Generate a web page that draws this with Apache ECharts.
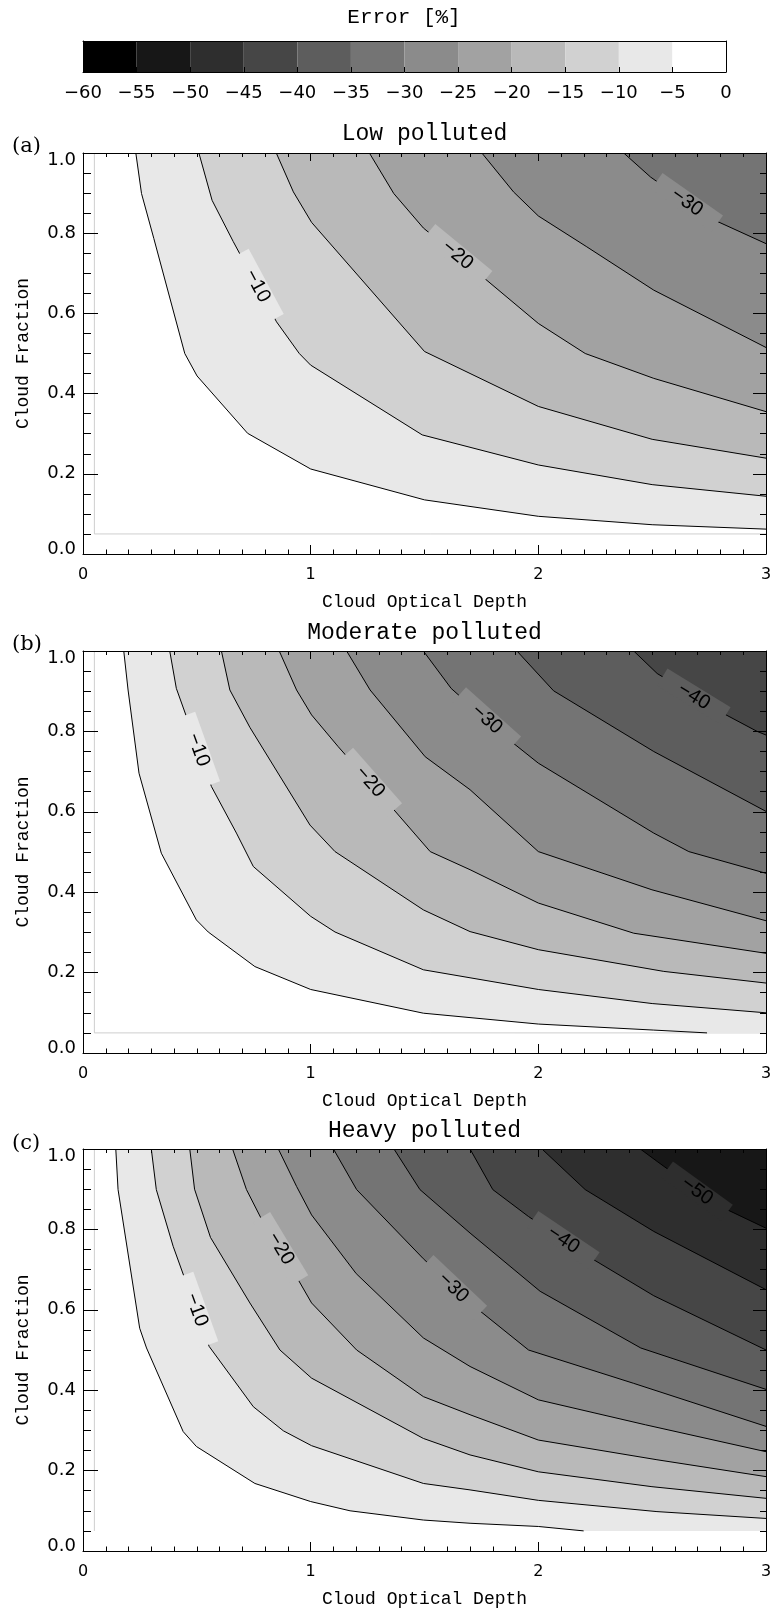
<!DOCTYPE html>
<html>
<head>
<meta charset="utf-8">
<script src="https://cdn.jsdelivr.net/npm/echarts@6/dist/echarts.min.js"></script>
<style>html,body{margin:0;padding:0;background:#fff}#c{width:774px;height:1611px}</style>
</head>
<body>
<div id="c"></div>
<script>
// ---------- data ----------
const colorbarTicks = [-60, -55, -50, -45, -40, -35, -30, -25, -20, -15, -10, -5, 0];
const bandColors = ['#000000', '#171717', '#2e2e2e', '#464646', '#5d5d5d', '#747474',
                    '#8b8b8b', '#a2a2a2', '#b9b9b9', '#d1d1d1', '#e8e8e8', '#ffffff'];
const xRange = [0, 3];
const yRange = [0, 1];
const xTicks = [0, 1, 2, 3];
const yTicks = [0.0, 0.2, 0.4, 0.6, 0.8, 1.0];
const domainEdge = 0.05;
const panelTitles = ['Low polluted', 'Moderate polluted', 'Heavy polluted'];
const panelTags = ['(a)', '(b)', '(c)'];

const lowLevels = [-5, -10, -15, -20, -25, -30];
const lowContours = [
  [[0.232,1.0],[0.257,0.899],[0.311,0.787],[0.447,0.500],[0.501,0.444],[0.723,0.301],[1.0,0.212],[1.5,0.135],[2.0,0.094],[2.5,0.073],[3.0,0.062]],
  [[0.509,1.0],[0.567,0.882],[0.660,0.779],[0.850,0.579],[0.950,0.500],[1.0,0.471],[1.49,0.297],[2.0,0.222],[2.5,0.173],[3.0,0.144]],
  [[0.849,1.0],[0.924,0.903],[1.004,0.827],[1.5,0.505],[2.0,0.368],[2.5,0.286],[3.0,0.239]],
  [[1.258,1.0],[1.365,0.899],[1.495,0.813],[1.737,0.700],[2.0,0.575],[2.206,0.500],[2.507,0.438],[3.0,0.355]],
  [[1.752,1.0],[1.891,0.903],[2.0,0.843],[2.213,0.766],[2.507,0.658],[3.0,0.515]],
  [[2.375,1.0],[2.493,0.940],[2.741,0.841],[3.0,0.774]]
];
const lowLabels = [[1, 0.766, 0.668], [3, 1.645, 0.745], [5, 2.653, 0.877]];

const modLevels = [-5, -10, -15, -20, -25, -30, -35, -40];
const modContours = [
  [[0.179,1.0],[0.198,0.903],[0.246,0.696],[0.344,0.497],[0.498,0.331],[0.550,0.301],[0.755,0.215],[1.0,0.158],[1.495,0.099],[2.0,0.072],[2.507,0.057],[2.741,0.05]],
  [[0.381,1.0],[0.410,0.907],[0.564,0.663],[0.674,0.547],[0.748,0.464],[1.0,0.340],[1.107,0.301],[1.495,0.207],[2.0,0.158],[2.5,0.123],[3.0,0.100]],
  [[0.608,1.0],[0.645,0.903],[0.733,0.810],[0.997,0.567],[1.107,0.501],[1.495,0.356],[1.70,0.302],[2.0,0.257],[2.551,0.203],[3.0,0.174]],
  [[0.862,1.0],[0.938,0.903],[1.004,0.841],[1.121,0.762],[1.341,0.621],[1.525,0.501],[1.70,0.456],[2.0,0.373],[2.419,0.298],[3.0,0.248]],
  [[1.158,1.0],[1.261,0.903],[1.503,0.737],[1.70,0.655],[2.0,0.501],[2.499,0.406],[3.0,0.329]],
  [[1.495,1.0],[1.617,0.907],[1.854,0.787],[2.0,0.721],[2.507,0.547],[2.661,0.501],[3.0,0.447]],
  [[1.906,1.0],[2.067,0.901],[2.507,0.750],[3.0,0.601]],
  [[2.419,1.0],[2.522,0.944],[2.785,0.853],[2.961,0.800],[3.0,0.791]]
];
const modLabels = [[1, 0.506, 0.754], [3, 1.261, 0.674], [5, 1.774, 0.830], [7, 2.683, 0.887]];

const heavyLevels = [-5, -10, -15, -20, -25, -30, -35, -40, -45, -50];
const heavyContours = [
  [[0.144,1.0],[0.154,0.899],[0.249,0.554],[0.279,0.505],[0.440,0.297],[0.498,0.260],[0.755,0.168],[1.0,0.123],[1.173,0.100],[1.495,0.077],[1.70,0.069],[2.0,0.061],[2.199,0.05]],
  [[0.300,1.0],[0.322,0.899],[0.396,0.758],[0.554,0.509],[0.748,0.359],[0.880,0.299],[1.004,0.262],[1.495,0.168],[1.70,0.152],[2.0,0.126],[2.521,0.098],[3.0,0.081]],
  [[0.469,1.0],[0.490,0.900],[0.560,0.780],[0.733,0.617],[0.865,0.500],[1.004,0.430],[1.495,0.280],[1.70,0.239],[2.0,0.197],[2.499,0.160],[3.0,0.131]],
  [[0.657,1.0],[0.718,0.899],[0.780,0.830],[0.945,0.675],[1.004,0.617],[1.202,0.500],[1.495,0.384],[1.70,0.339],[2.0,0.276],[2.521,0.227],[3.0,0.185]],
  [[0.858,1.0],[0.938,0.907],[1.004,0.836],[1.200,0.690],[1.495,0.530],[1.70,0.459],[2.0,0.376],[2.470,0.314],[3.0,0.247]],
  [[1.100,1.0],[1.202,0.899],[1.495,0.727],[1.70,0.617],[1.957,0.500],[2.419,0.417],[3.0,0.310]],
  [[1.366,1.0],[1.480,0.899],[1.70,0.791],[2.008,0.646],[2.450,0.505],[3.0,0.402]],
  [[1.70,1.0],[1.80,0.899],[1.957,0.832],[2.195,0.741],[2.507,0.635],[3.0,0.500]],
  [[2.016,1.0],[2.206,0.899],[2.507,0.795],[3.0,0.650]],
  [[2.448,1.0],[2.522,0.969],[2.785,0.861],[3.0,0.803]]
];
const heavyLabels = [[1, 0.498, 0.600], [3, 0.868, 0.752], [5, 1.627, 0.655], [7, 2.11, 0.774], [9, 2.697, 0.895]];

// ---------- helpers ----------
function bandColor(lo) { return bandColors[Math.round((lo - colorbarTicks[0]) / 5)]; }
function levelText(v) { return v < 0 ? '\u2212' + Math.abs(v) : String(v); }

const grids = [
  { left: 83, width: 643, top: 41, height: 31 },
  { left: 83, width: 683, top: 153, height: 401 },
  { left: 83, width: 683, top: 651, height: 402 },
  { left: 83, width: 683, top: 1149, height: 402 }
];

const black = '#000';
const tickFont = 'DejaVu Sans';
const monoFont = 'Liberation Mono';

const xAxes = [];
const yAxes = [];
// colorbar axes
xAxes.push({
  gridIndex: 0, type: 'value', min: colorbarTicks[0], max: colorbarTicks[colorbarTicks.length - 1], interval: 5,
  position: 'bottom', z: 10,
  axisLine: { show: true, onZero: false, lineStyle: { color: black, width: 1 } },
  axisTick: { show: true, inside: true, length: 5, lineStyle: { color: black } },
  splitLine: { show: false },
  axisLabel: { show: true, interval: 0, showMinLabel: true, showMaxLabel: true, margin: 12, color: black,
    fontFamily: tickFont, fontSize: 18, formatter: v => levelText(v) }
});
xAxes.push({
  gridIndex: 0, type: 'value', min: colorbarTicks[0], max: 0, interval: 5, position: 'top', z: 10,
  axisLine: { show: true, onZero: false, lineStyle: { color: black, width: 1 } },
  axisTick: { show: false }, axisLabel: { show: false }, splitLine: { show: false }
});
yAxes.push({ gridIndex: 0, type: 'value', min: 0, max: 1, position: 'left', z: 10,
  axisLine: { show: true, onZero: false, lineStyle: { color: black } }, axisTick: { show: false }, axisLabel: { show: false }, splitLine: { show: false } });
yAxes.push({ gridIndex: 0, type: 'value', min: 0, max: 1, position: 'right', z: 10,
  axisLine: { show: true, onZero: false, lineStyle: { color: black } }, axisTick: { show: false }, axisLabel: { show: false }, splitLine: { show: false } });

const yLabelRich = {
  n: { fontFamily: tickFont, fontSize: 18, color: black },
  t: { fontFamily: tickFont, fontSize: 18, color: black, padding: [14, 0, 0, 0] },
  b: { fontFamily: tickFont, fontSize: 18, color: black, padding: [0, 0, 10, 0] }
};

for (let g = 1; g <= 3; g++) {
  xAxes.push({
    gridIndex: g, type: 'value', min: xRange[0], max: xRange[1], interval: 1, position: 'bottom', z: 10,
    name: 'Cloud Optical Depth', nameLocation: 'middle', nameGap: 39,
    nameTextStyle: { fontFamily: monoFont, fontSize: 18, color: black },
    axisLine: { show: true, onZero: false, lineStyle: { color: black, width: 1 } },
    axisTick: { show: true, inside: true, length: 9, lineStyle: { color: black } },
    minorTick: { show: true, splitNumber: 10, length: 4.5, lineStyle: { color: black } },
    splitLine: { show: false }, minorSplitLine: { show: false },
    axisLabel: { show: true, margin: 13, color: black, fontFamily: tickFont, fontSize: 16,
      formatter: v => xTicks.indexOf(v) >= 0 ? String(v) : '' }
  });
  xAxes.push({
    gridIndex: g, type: 'value', min: xRange[0], max: xRange[1], interval: 1, position: 'top', z: 10,
    axisLine: { show: true, onZero: false, lineStyle: { color: black, width: 1 } },
    axisTick: { show: true, inside: true, length: 8, lineStyle: { color: black } },
    minorTick: { show: true, splitNumber: 10, length: 4, lineStyle: { color: black } },
    splitLine: { show: false }, axisLabel: { show: false }
  });
  yAxes.push({
    gridIndex: g, type: 'value', min: yRange[0], max: yRange[1], interval: 0.2, position: 'left', z: 10,
    name: 'Cloud Fraction', nameLocation: 'middle', nameGap: 51, nameRotate: 90,
    nameTextStyle: { fontFamily: monoFont, fontSize: 18, color: black },
    axisLine: { show: true, onZero: false, lineStyle: { color: black, width: 1 } },
    axisTick: { show: true, inside: true, length: 15, lineStyle: { color: black } },
    minorTick: { show: true, splitNumber: 4, length: 8, lineStyle: { color: black } },
    splitLine: { show: false }, minorSplitLine: { show: false },
    axisLabel: { show: true, margin: 7, color: black, fontFamily: tickFont, fontSize: 18, rich: yLabelRich,
      formatter: v => {
        const s = v.toFixed(1);
        if (Math.abs(v - yTicks[yTicks.length - 1]) < 1e-9) return '{t|' + s + '}';
        if (Math.abs(v - yTicks[0]) < 1e-9) return '{b|' + s + '}';
        return '{n|' + s + '}';
      } }
  });
  yAxes.push({
    gridIndex: g, type: 'value', min: yRange[0], max: yRange[1], interval: 0.2, position: 'right', z: 10,
    axisLine: { show: true, onZero: false, lineStyle: { color: black, width: 1 } },
    axisTick: { show: true, inside: true, length: 13, lineStyle: { color: black } },
    minorTick: { show: true, splitNumber: 4, length: 6, lineStyle: { color: black } },
    splitLine: { show: false }, axisLabel: { show: false }
  });
}

const series = [];
// colorbar cells
series.push({
  type: 'custom', xAxisIndex: 0, yAxisIndex: 0, silent: true, z: 2,
  data: colorbarTicks.slice(0, -1).map((v, i) => [v, 0.5, i]),
  renderItem(params, api) {
    const i = api.value(2);
    const p0 = api.coord([colorbarTicks[i], 1]);
    const p1 = api.coord([colorbarTicks[i + 1], 0]);
    return { type: 'rect', shape: { x: p0[0], y: p0[1], width: p1[0] - p0[0], height: p1[1] - p0[1] },
      style: { fill: bandColors[i], stroke: null } };
  }
});

function addPanel(g, contours, levels, labels, bottomEdge) {
  const ax = g * 2;
  // faint domain edge
  series.push({
    type: 'custom', xAxisIndex: ax, yAxisIndex: ax, silent: true, z: 1,
    data: [[domainEdge, domainEdge]],
    renderItem(params, api) {
      const pts = [api.coord([domainEdge, yRange[1]]), api.coord([domainEdge, domainEdge])];
      if (bottomEdge) pts.push(api.coord([xRange[1], domainEdge]));
      return { type: 'polyline', shape: { points: pts }, style: { stroke: '#cfcfcf', lineWidth: 1, fill: null } };
    }
  });
  // filled bands
  series.push({
    type: 'custom', xAxisIndex: ax, yAxisIndex: ax, silent: true, z: 2, clip: true,
    data: contours.map((c, i) => [c[0][0], c[0][1], i]),
    renderItem(params, api) {
      const i = api.value(2);
      const c = contours[i];
      const pts = c.map(p => api.coord(p));
      const last = c[c.length - 1];
      if (last[0] < xRange[1]) pts.push(api.coord([xRange[1], last[1]]));
      pts.push(api.coord([xRange[1], yRange[1]]));
      return { type: 'polygon', shape: { points: pts }, style: { fill: bandColor(levels[i] - 5), stroke: null } };
    }
  });
  // contour lines
  series.push({
    type: 'custom', xAxisIndex: ax, yAxisIndex: ax, silent: true, z: 3, clip: true,
    data: contours.map((c, i) => [c[0][0], c[0][1], i]),
    renderItem(params, api) {
      const c = contours[api.value(2)];
      return { type: 'polyline', shape: { points: c.map(p => api.coord(p)) },
        style: { stroke: '#000', lineWidth: 1, fill: null } };
    }
  });
  // contour labels
  series.push({
    type: 'custom', xAxisIndex: ax, yAxisIndex: ax, silent: true, z: 4,
    data: labels.map((l, i) => [l[1], l[2], i]),
    renderItem(params, api) {
      const l = labels[api.value(2)];
      const c = contours[l[0]];
      let s = 0;
      while (s < c.length - 2 && c[s + 1][0] < l[1]) s++;
      const a = api.coord(c[s]), b = api.coord(c[s + 1]);
      const ang = Math.atan2(b[1] - a[1], b[0] - a[0]);
      const p = api.coord([l[1], l[2]]);
      return { type: 'text', x: p[0], y: p[1], rotation: -ang,
        style: { text: levelText(levels[l[0]]), fill: '#000', font: '20px "Liberation Sans"',
          align: 'center', verticalAlign: 'middle',
          backgroundColor: bandColor(levels[l[0]]), padding: [0, 20] } };
    }
  });
}
addPanel(1, lowContours, lowLevels, lowLabels, true);
addPanel(2, modContours, modLevels, modLabels, true);
addPanel(3, heavyContours, heavyLevels, heavyLabels, false);

const titleY = [134, 633, 1131];
const tagY = [147, 645, 1144];
const graphic = [
  { type: 'text', x: 404, y: 17, style: { text: 'Error [%]', font: '21px "Liberation Mono"', fill: '#000', align: 'center', verticalAlign: 'middle' } }
];
for (let k = 0; k < 3; k++) {
  graphic.push({ type: 'text', x: 424.5, y: titleY[k], style: { text: panelTitles[k], font: '23px "Liberation Mono"', fill: '#000', align: 'center', verticalAlign: 'middle' } });
  graphic.push({ type: 'text', x: 12, y: tagY[k], style: { text: panelTags[k], font: '21px "DejaVu Serif"', fill: '#000', align: 'left', verticalAlign: 'middle' } });
}

const chart = echarts.init(document.getElementById('c'), null, { renderer: 'canvas', width: 774, height: 1611 });
chart.setOption({
  backgroundColor: '#ffffff',
  animation: false,
  grid: grids.map(g => Object.assign({ containLabel: false, outerBoundsMode: 'none' }, g)),
  xAxis: xAxes,
  yAxis: yAxes,
  series: series,
  graphic: graphic
});
</script>
</body>
</html>
